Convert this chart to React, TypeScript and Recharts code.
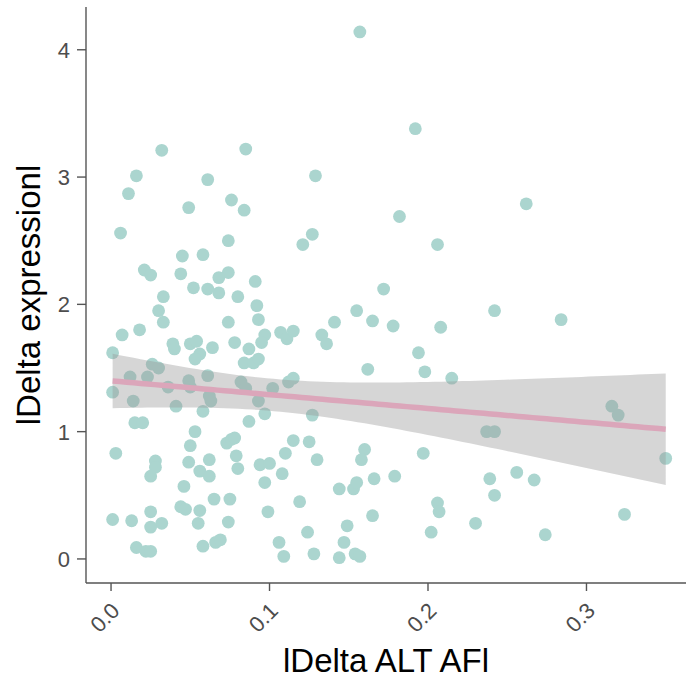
import { ComposedChart, Scatter, Area, Line, XAxis, YAxis } from 'recharts';

// |Delta ALT AF| per point
const deltaAF = [
  0.157, 0.192, 0.032, 0.085, 0.016, 0.061, 0.129, 0.011, 0.076, 0.049,
  0.084, 0.006, 0.074, 0.045, 0.058, 0.021, 0.025, 0.044, 0.074, 0.068,
  0.091, 0.052, 0.061, 0.068, 0.033, 0.080, 0.092, 0.030, 0.033, 0.074,
  0.093, 0.018, 0.007, 0.107, 0.097, 0.095, 0.039, 0.040, 0.050, 0.054,
  0.064, 0.078, 0.087, 0.001, 0.056, 0.053, 0.084, 0.090, 0.093, 0.026,
  0.030, 0.012, 0.023, 0.049, 0.061, 0.082, 0.102, 0.112, 0.001, 0.036,
  0.050, 0.062, 0.063, 0.014, 0.041, 0.058, 0.085, 0.093, 0.097, 0.087,
  0.015, 0.020, 0.053, 0.050, 0.073, 0.076, 0.078, 0.003, 0.079, 0.110,
  0.028, 0.028, 0.049, 0.062, 0.025, 0.056, 0.062, 0.080, 0.094, 0.100,
  0.108, 0.046, 0.097, 0.065, 0.075, 0.025, 0.032, 0.025, 0.044, 0.047,
  0.056, 0.055, 0.074, 0.001, 0.013, 0.099, 0.016, 0.022, 0.025, 0.058,
  0.066, 0.069, 0.106, 0.109, 0.182, 0.127, 0.121, 0.206, 0.172, 0.155,
  0.141, 0.165, 0.178, 0.208, 0.111, 0.115, 0.133, 0.136, 0.194, 0.162,
  0.198, 0.215, 0.115, 0.127, 0.115, 0.125, 0.130, 0.160, 0.158, 0.197,
  0.144, 0.153, 0.155, 0.166, 0.179, 0.119, 0.206, 0.207, 0.149, 0.165,
  0.124, 0.202, 0.230, 0.147, 0.128, 0.144, 0.154, 0.157, 0.262, 0.242,
  0.284, 0.316, 0.320, 0.237, 0.242, 0.350, 0.239, 0.256, 0.267, 0.242,
  0.324, 0.274,
];

// |Delta expression| per point
const deltaExpr = [
  4.14, 3.38, 3.21, 3.22, 3.01, 2.98, 3.01, 2.87, 2.82, 2.76,
  2.74, 2.56, 2.50, 2.38, 2.39, 2.27, 2.23, 2.24, 2.25, 2.21,
  2.18, 2.13, 2.12, 2.09, 2.06, 2.06, 1.99, 1.95, 1.86, 1.86,
  1.88, 1.80, 1.76, 1.78, 1.76, 1.70, 1.69, 1.65, 1.69, 1.71,
  1.66, 1.70, 1.65, 1.62, 1.61, 1.57, 1.54, 1.54, 1.57, 1.53,
  1.50, 1.43, 1.43, 1.40, 1.44, 1.39, 1.34, 1.39, 1.31, 1.35,
  1.35, 1.28, 1.24, 1.24, 1.20, 1.16, 1.34, 1.24, 1.14, 1.08,
  1.07, 1.07, 1.00, 0.89, 0.91, 0.94, 0.95, 0.83, 0.81, 0.83,
  0.77, 0.72, 0.76, 0.78, 0.65, 0.69, 0.65, 0.71, 0.74, 0.75,
  0.67, 0.57, 0.60, 0.47, 0.47, 0.37, 0.28, 0.25, 0.41, 0.39,
  0.38, 0.28, 0.29, 0.31, 0.30, 0.37, 0.09, 0.06, 0.06, 0.10,
  0.13, 0.15, 0.13, 0.02, 2.69, 2.55, 2.47, 2.47, 2.12, 1.95,
  1.86, 1.87, 1.83, 1.82, 1.73, 1.79, 1.76, 1.69, 1.62, 1.49,
  1.47, 1.42, 1.42, 1.13, 0.93, 0.92, 0.78, 0.86, 0.78, 0.83,
  0.55, 0.55, 0.60, 0.63, 0.65, 0.45, 0.44, 0.37, 0.26, 0.34,
  0.21, 0.21, 0.28, 0.13, 0.04, 0.01, 0.04, 0.02, 2.79, 1.95,
  1.88, 1.20, 1.13, 1.00, 1.00, 0.79, 0.63, 0.68, 0.62, 0.50,
  0.35, 0.19,
];

const xTicks = [0, 0.1, 0.2, 0.3];
const yTicks = [0, 1, 2, 3, 4];

const points = deltaAF.map((x, i) => ({ x, y: deltaExpr[i] }));

// linear fit with 95% confidence band, like geom_smooth(method = "lm")
function lmBand(xs: number[], ys: number[], steps = 80) {
  const n = xs.length;
  const mx = xs.reduce((s, v) => s + v, 0) / n;
  const my = ys.reduce((s, v) => s + v, 0) / n;
  let sxx = 0;
  let sxy = 0;
  xs.forEach((x, i) => {
    sxx += (x - mx) ** 2;
    sxy += (x - mx) * (ys[i] - my);
  });
  const b = sxy / sxx;
  const a = my - b * mx;
  let rss = 0;
  xs.forEach((x, i) => {
    rss += (ys[i] - a - b * x) ** 2;
  });
  const s2 = rss / (n - 2);
  const t = 1.974;
  const lo = Math.min(...xs);
  const hi = Math.max(...xs);
  const out = [];
  for (let k = 0; k < steps; k++) {
    const x = lo + ((hi - lo) * k) / (steps - 1);
    const fit = a + b * x;
    const se = Math.sqrt(s2 * (1 / n + (x - mx) ** 2 / sxx));
    out.push({ x, fit, band: [fit - t * se, fit + t * se] });
  }
  return out;
}

const smooth = lmBand(deltaAF, deltaExpr);

const FONT = '"Liberation Sans", Arial, Helvetica, sans-serif';
const AXIS = '#555555';

const YTick = ({ x, y, payload }: any) => (
  <text x={x} y={y} dy="0.36em" textAnchor="end" fontSize={22} fill="#4d4d4d" fontFamily={FONT}>
    {payload.value}
  </text>
);

const XTick = ({ x, y, payload }: any) => {
  const ax = x + 10;
  const ay = y + 21;
  return (
    <text
      x={ax}
      y={ay}
      textAnchor="end"
      fontSize={22}
      fill="#4d4d4d"
      fontFamily={FONT}
      transform={`rotate(-45, ${ax}, ${ay})`}
    >
      {Number(payload.value).toFixed(1)}
    </text>
  );
};

const XTitle = ({ viewBox }: any) => (
  <text
    x={viewBox.x + viewBox.width / 2}
    y={viewBox.y + viewBox.height - 6}
    textAnchor="middle"
    fontSize={33}
    fill="#000"
    fontFamily={FONT}
  >
    lDelta ALT AFl
  </text>
);

const YTitle = ({ viewBox }: any) => {
  const cx = 40;
  const cy = viewBox.y + viewBox.height / 2;
  return (
    <text
      x={cx}
      y={cy}
      textAnchor="middle"
      fontSize={33}
      fill="#000"
      fontFamily={FONT}
      transform={`rotate(-90, ${cx}, ${cy})`}
    >
      lDelta expressionl
    </text>
  );
};

const Dot = ({ cx, cy }: any) => <circle cx={cx} cy={cy} r={6.4} fill="#abd5cf" />;

export default function App() {
  return (
    <div style={{ position: 'absolute', left: 0, top: 0, width: 686, height: 678, background: '#fff' }}>
      <ComposedChart
        width={686}
        height={678}
        data={smooth}
        margin={{ top: 7, right: 0, bottom: 0, left: 0 }}
      >
        <XAxis
          dataKey="x"
          type="number"
          domain={[-0.0158, 0.3628]}
          ticks={xTicks}
          allowDataOverflow
          height={95}
          tickSize={8}
          tickMargin={0}
          tick={<XTick />}
          axisLine={{ stroke: AXIS, strokeWidth: 1.4 }}
          tickLine={{ stroke: AXIS, strokeWidth: 1.4 }}
          label={<XTitle />}
        />
        <XAxis
          xAxisId="top"
          orientation="top"
          type="number"
          domain={[-0.0158, 0.3628]}
          height={0}
          tick={false}
          tickLine={false}
          axisLine={{ stroke: AXIS, strokeWidth: 1.4 }}
        />
        <YAxis
          type="number"
          domain={[-0.189, 4.336]}
          ticks={yTicks}
          allowDataOverflow
          width={86}
          tickSize={9}
          tickMargin={7}
          tick={<YTick />}
          axisLine={{ stroke: AXIS, strokeWidth: 1.4 }}
          tickLine={{ stroke: AXIS, strokeWidth: 1.4 }}
          label={<YTitle />}
        />
        <Scatter data={points} dataKey="y" shape={<Dot />} isAnimationActive={false} zIndex={50} />
        <Area
          dataKey="band"
          type="linear"
          stroke="none"
          fill="#999999"
          fillOpacity={0.4}
          isAnimationActive={false}
          zIndex={650}
        />
        <Line
          dataKey="fit"
          type="linear"
          stroke="#dba6ba"
          strokeWidth={5.5}
          dot={false}
          isAnimationActive={false}
          zIndex={700}
        />
      </ComposedChart>
    </div>
  );
}
